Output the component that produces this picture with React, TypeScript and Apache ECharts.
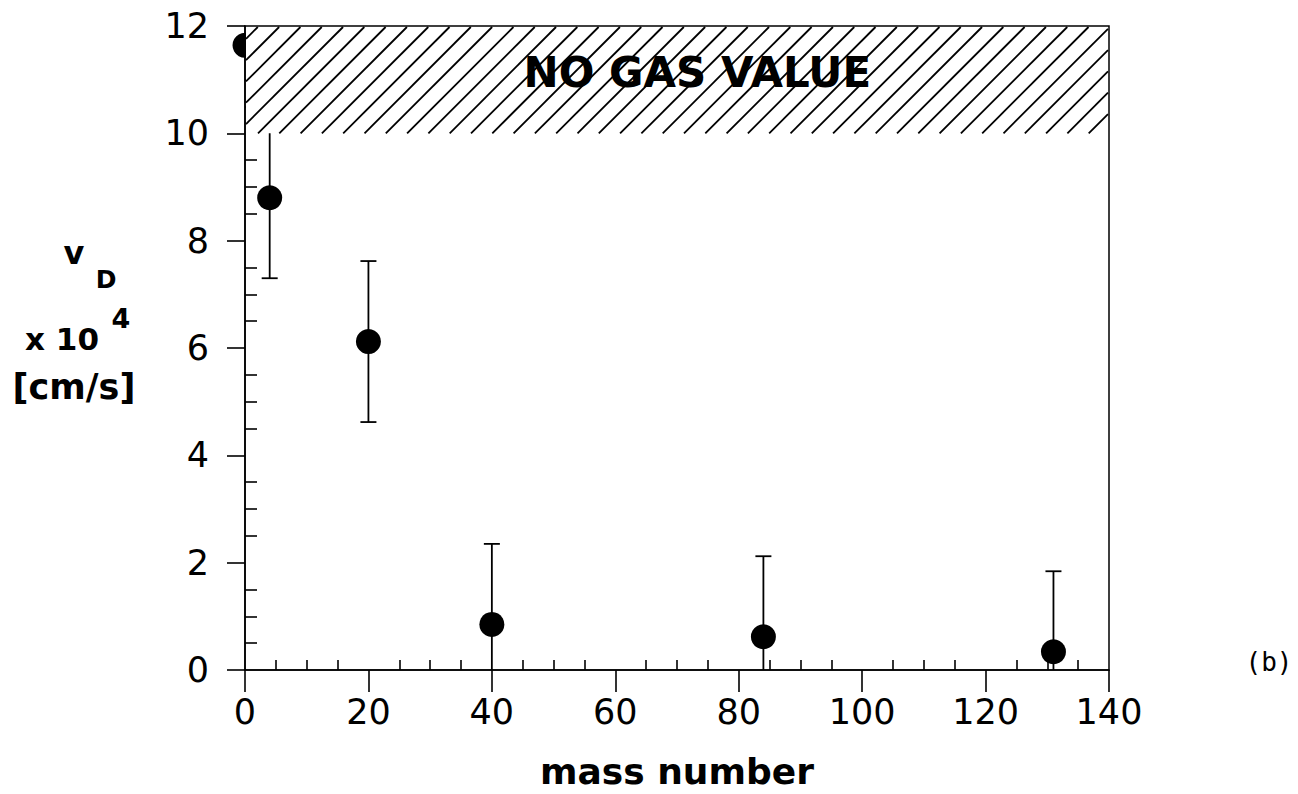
import { useEffect, useRef } from "react";
import * as echarts from "echarts";

// Deposition velocity of noble gases versus mass number
const massNumbers = [0, 4, 20, 40, 84, 131];
const depositionVelocity = [11.64, 8.8, 6.12, 0.85, 0.62, 0.34];
const velocityError = [0, 1.5, 1.5, 1.5, 1.5, 1.5];

const xTickValues = [0, 20, 40, 60, 80, 100, 120, 140];
const yTickValues = [0, 2, 4, 6, 8, 10, 12];

// Hatched band: [xFrom, xTo, yFrom, yTo] and its caption
const noGasBand = [0, 140, 10, 12];
const noGasLabel = "NO GAS VALUE";
const noGasLabelAt = [73.3, 11.14];

const FONT = "DejaVu Sans";

export default function App() {
  const ref = useRef<HTMLDivElement>(null);

  useEffect(() => {
    if (!ref.current) return;
    const chart = echarts.init(ref.current, null, { renderer: "svg" });

    const points = massNumbers.map((m, i) => [m, depositionVelocity[i]]);
    const bars = massNumbers.map((m, i) => [m, depositionVelocity[i], velocityError[i]]);
    const yMin = yTickValues[0];
    const yMax = yTickValues[yTickValues.length - 1];

    const option: any = {
      animation: false,
      backgroundColor: "#fff",
      grid: {
        left: 245,
        right: 189,
        top: 26,
        bottom: 124,
        outerBoundsMode: "none",
        containLabel: false,
        show: true,
        borderColor: "#000",
        borderWidth: 1.5,
        backgroundColor: "transparent",
      },
      xAxis: {
        type: "value",
        min: xTickValues[0],
        max: xTickValues[xTickValues.length - 1],
        interval: 20,
        name: "mass number",
        nameLocation: "middle",
        nameGap: 83,
        nameTextStyle: { fontFamily: FONT, fontWeight: "bold", fontSize: 36, color: "#000" },
        axisLine: { lineStyle: { color: "#000", width: 1.6 } },
        axisTick: { show: true, inside: false, length: 22, lineStyle: { color: "#000", width: 1.6 } },
        minorTick: { show: true, splitNumber: 4, length: -10, lineStyle: { color: "#000", width: 1.6 } },
        splitLine: { show: false },
        axisLabel: { fontFamily: FONT, fontSize: 35, color: "#000", margin: 24 },
      },
      yAxis: {
        type: "value",
        min: yMin,
        max: yMax,
        interval: 2,
        axisLine: { lineStyle: { color: "#000", width: 1.6 } },
        axisTick: { show: true, inside: false, length: 18, lineStyle: { color: "#000", width: 1.6 } },
        minorTick: { show: true, splitNumber: 4, length: -12, lineStyle: { color: "#000", width: 1.6 } },
        splitLine: { show: false },
        axisLabel: { fontFamily: FONT, fontSize: 35, color: "#000", margin: 36 },
      },
      graphic: [
        { type: "text", x: 74, y: 253, style: { text: "v", font: `bold 32px "${FONT}"`, fill: "#000", align: "center", verticalAlign: "middle" } },
        { type: "text", x: 106, y: 279, style: { text: "D", font: `bold 25px "${FONT}"`, fill: "#000", align: "center", verticalAlign: "middle" } },
        { type: "text", x: 62, y: 339, style: { text: "x 10", font: `bold 31px "${FONT}"`, fill: "#000", align: "center", verticalAlign: "middle" } },
        { type: "text", x: 121, y: 318, style: { text: "4", font: `bold 27px "${FONT}"`, fill: "#000", align: "center", verticalAlign: "middle" } },
        { type: "text", x: 74, y: 387, style: { text: "[cm/s]", font: `bold 35px "${FONT}"`, fill: "#000", align: "center", verticalAlign: "middle" } },
        { type: "text", x: 1269, y: 662, style: { text: "(b)", font: `26px "DejaVu Sans Mono"`, fill: "#000", align: "center", verticalAlign: "middle" } },
      ],
      series: [
        {
          // error bars, clipped at the lower axis
          type: "custom",
          z: 2,
          data: bars,
          renderItem: (params: any, api: any) => {
            const x = api.value(0);
            const y = api.value(1);
            const e = api.value(2);
            if (!e) return { type: "group", children: [] };
            const lo = Math.max(yMin, y - e);
            const hi = Math.min(yMax, y + e);
            const pLo = api.coord([x, lo]);
            const pHi = api.coord([x, hi]);
            const cap = 8;
            const st = { stroke: "#000", lineWidth: 1.8 };
            const children: any[] = [
              { type: "line", shape: { x1: pLo[0], y1: pLo[1], x2: pHi[0], y2: pHi[1] }, style: st },
            ];
            if (y + e <= yMax) children.push({ type: "line", shape: { x1: pHi[0] - cap, y1: pHi[1], x2: pHi[0] + cap, y2: pHi[1] }, style: st });
            if (y - e >= yMin) children.push({ type: "line", shape: { x1: pLo[0] - cap, y1: pLo[1], x2: pLo[0] + cap, y2: pLo[1] }, style: st });
            return { type: "group", children };
          },
        },
        {
          type: "scatter",
          z: 3,
          symbol: "circle",
          symbolSize: 25,
          itemStyle: { color: "#000", opacity: 1 },
          data: points,
        },
        {
          // hatched "no gas value" band
          type: "custom",
          z: 5,
          data: [noGasBand],
          renderItem: (params: any, api: any) => {
            const tl = api.coord([api.value(0), api.value(3)]);
            const br = api.coord([api.value(1), api.value(2)]);
            const left = tl[0] + 1;
            const right = br[0] - 1;
            const top = tl[1] + 1;
            const bottom = br[1];
            const h = bottom - top;
            const sp = 21.3;
            const children: any[] = [
              { type: "rect", shape: { x: left, y: top, width: right - left, height: bottom - top }, style: { fill: "#fff" } },
            ];
            const start = left + 12 - Math.ceil(h / sp) * sp;
            for (let b = start; b < right; b += sp) {
              let x0 = b, y0 = bottom, x1 = b + h, y1 = top;
              if (x0 < left) { y0 = bottom - (left - b); x0 = left; }
              if (x1 > right) { y1 = top + (x1 - right); x1 = right; }
              if (x0 < x1) children.push({ type: "line", shape: { x1: x0, y1: y0, x2: x1, y2: y1 }, style: { stroke: "#000", lineWidth: 1.8 } });
            }
            const tp = api.coord(noGasLabelAt);
            children.push({
              type: "text",
              x: tp[0],
              y: tp[1],
              style: { text: noGasLabel, font: `bold 42px "${FONT}"`, fill: "#000", align: "center", verticalAlign: "middle" },
            });
            return { type: "group", children };
          },
        },
      ],
    };

    chart.setOption(option);
    return () => chart.dispose();
  }, []);

  return <div ref={ref} style={{ position: "fixed", left: 0, top: 0, width: 1298, height: 794 }} />;
}
